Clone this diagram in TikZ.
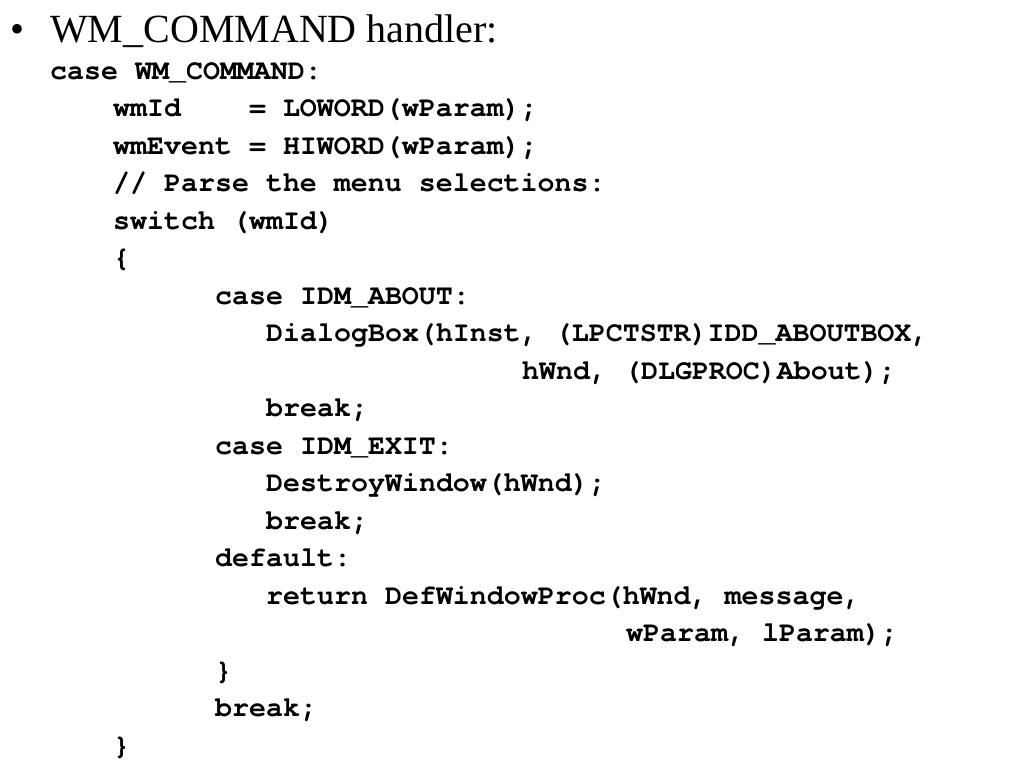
\documentclass[tikz,border=0pt]{standalone}
\usepackage{fontspec}
\setmainfont{Liberation Serif}
\newfontfamily\codefont{texgyrecursor-bold.otf}
\begin{document}
\begin{tikzpicture}[x=1pt,y=-1pt,
  titletext/.style={anchor=base west,inner sep=0pt,font=\fontsize{40}{44}\selectfont},
  codeline/.style={anchor=base west,inner sep=0pt,font=\codefont\fontsize{28.3}{30}\selectfont}]
\useasboundingbox[fill=white] (0,0) rectangle (1024,768);
\node[titletext] (bul) at (10,42) {\textbullet};
\node[titletext] (title) at (50,42) {WM\_COMMAND handler:};
\node[codeline] (l0) at (50,79) {case WM\_COMMAND:};
\node[codeline] (l1) at (113,116.5) {wmId\ \ \ \ = LOWORD(wParam);};
\node[codeline] (l2) at (113,154) {wmEvent = HIWORD(wParam);};
\node[codeline] (l3) at (113,191.5) {// Parse the menu selections:};
\node[codeline] (l4) at (113,229) {switch (wmId)};
\node[codeline] (l5) at (113,266.5) {\{};
\node[codeline] (l6) at (215,304) {case IDM\_ABOUT:};
\node[codeline] (l7) at (266,341.5) {DialogBox(hInst, (LPCTSTR)IDD\_ABOUTBOX,};
\node[codeline] (l8) at (522,379) {hWnd, (DLGPROC)About);};
\node[codeline] (l9) at (266,416.5) {break;};
\node[codeline] (l10) at (215,454) {case IDM\_EXIT:};
\node[codeline] (l11) at (266,491.5) {DestroyWindow(hWnd);};
\node[codeline] (l12) at (266,529) {break;};
\node[codeline] (l13) at (215,566.5) {default:};
\node[codeline] (l14) at (266,604) {return DefWindowProc(hWnd, message,};
\node[codeline] (l15) at (626,641.5) {wParam, lParam);};
\node[codeline] (l16) at (215,679) {\}};
\node[codeline] (l17) at (215,716.5) {break;};
\node[codeline] (l18) at (113,754) {\}};
\end{tikzpicture}
\end{document}
